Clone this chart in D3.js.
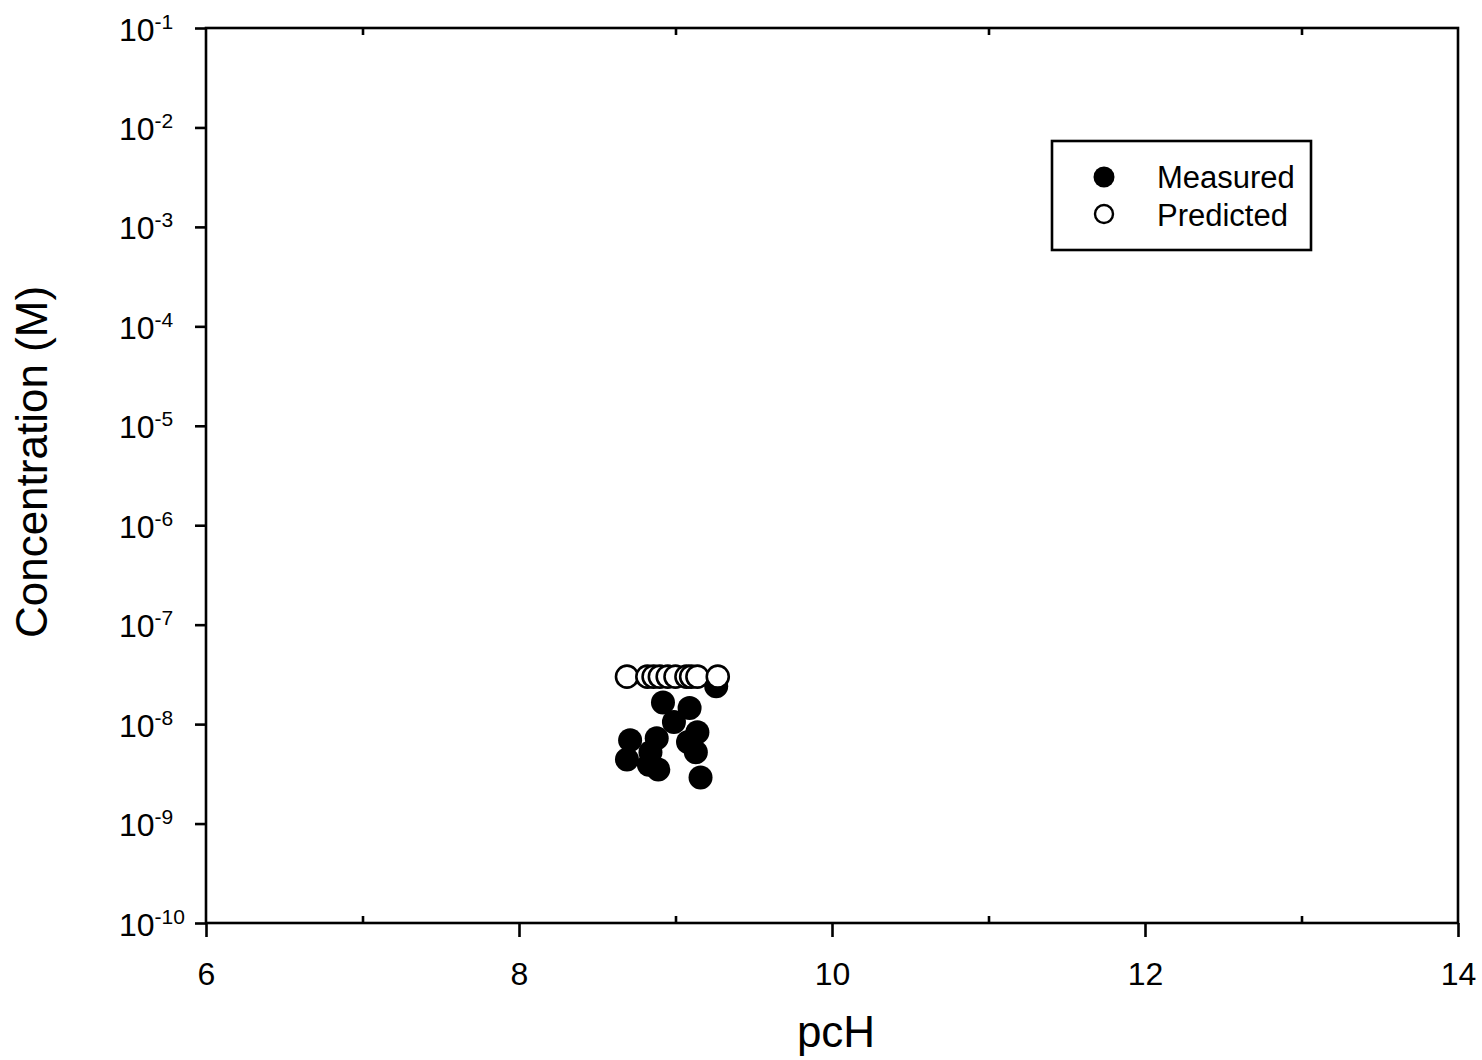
<!DOCTYPE html>
<html>
<head>
<meta charset="utf-8">
<script src="https://cdn.jsdelivr.net/npm/d3@7"></script>
<style>
  html, body { margin: 0; padding: 0; background: #fff; }
  svg text { font-family: "Liberation Sans", Arial, Helvetica, sans-serif; fill: #000; }
</style>
</head>
<body>
<svg id="chart" width="1482" height="1060"></svg>
<script>
// Measured concentrations (filled circles)
const measuredPcH  = [8.69, 8.71, 8.83, 8.84, 8.89, 8.88, 8.92, 8.99, 9.09, 9.08, 9.14, 9.13, 9.16, 9.26];
const measuredConc = [4.4e-9, 6.9e-9, 3.9e-9, 5.2e-9, 3.5e-9, 7.2e-9, 1.65e-8, 1.05e-8, 1.45e-8, 6.6e-9, 8.3e-9, 5.2e-9, 2.9e-9, 2.4e-8];

// Predicted concentrations (open circles)
const predictedPcH  = [8.69, 8.82, 8.86, 8.90, 8.95, 9.00, 9.07, 9.10, 9.14, 9.27];
const predictedConc = [3.0e-8, 3.0e-8, 3.0e-8, 3.0e-8, 3.0e-8, 3.0e-8, 3.0e-8, 3.0e-8, 3.0e-8, 3.0e-8];

// Axis ticks
const xMajorTicks = [6, 8, 10, 12, 14];
const xMinorTicks = [7, 9, 11, 13];
const yExponents  = [-1, -2, -3, -4, -5, -6, -7, -8, -9, -10];

const legendLabels = ["Measured", "Predicted"];

const svg = d3.select("#chart");
const margin = { left: 206, right: 24, top: 28, bottom: 137 };
const W = 1482, H = 1060;
const iw = W - margin.left - margin.right;
const ih = H - margin.top - margin.bottom;

const x = d3.scaleLinear().domain([6, 14]).range([0, iw]);
const y = d3.scaleLog().domain([1e-10, 1e-1]).range([ih, 0]);

const g = svg.append("g").attr("transform", `translate(${margin.left},${margin.top})`);

// Frame
g.append("rect")
  .attr("x", 0).attr("y", 0).attr("width", iw).attr("height", ih)
  .attr("fill", "none").attr("stroke", "#000").attr("stroke-width", 2.6);

// Bottom axis: major ticks outward, labelled
const xAxis = d3.axisBottom(x).tickValues(xMajorTicks).tickSize(14).tickSizeOuter(0).tickPadding(0);
const gx = g.append("g").attr("transform", `translate(0,${ih})`).call(xAxis);
gx.select(".domain").remove();
gx.selectAll(".tick line").attr("stroke", "#000").attr("stroke-width", 2.6);
gx.selectAll(".tick text").style("font-size", "32px").attr("y", 62).attr("dy", null);

// Minor x ticks pointing inward on bottom and top
const gxMinB = g.append("g").attr("transform", `translate(0,${ih})`)
  .call(d3.axisTop(x).tickValues(xMinorTicks).tickSize(7).tickSizeOuter(0).tickFormat(""));
gxMinB.select(".domain").remove();
gxMinB.selectAll(".tick line").attr("stroke", "#000").attr("stroke-width", 2.6);

const gxMinT = g.append("g")
  .call(d3.axisBottom(x).tickValues(xMinorTicks).tickSize(7).tickSizeOuter(0).tickFormat(""));
gxMinT.select(".domain").remove();
gxMinT.selectAll(".tick line").attr("stroke", "#000").attr("stroke-width", 2.6);

// Left axis: decade ticks outward with 10^n labels
const yTickVals = yExponents.map(e => Math.pow(10, e));
const yAxis = d3.axisLeft(y).tickValues(yTickVals).tickSize(11).tickSizeOuter(0).tickFormat("");
const gy = g.append("g").call(yAxis);
gy.select(".domain").remove();
gy.selectAll(".tick line").attr("stroke", "#000").attr("stroke-width", 2.6);

gy.selectAll(".tick").each(function(d, i) {
  const t = d3.select(this).append("text")
    .attr("x", 119 - margin.left)
    .attr("y", 12)
    .attr("text-anchor", "start")
    .style("font-size", "32px");
  t.append("tspan").text("10");
  t.append("tspan").attr("dy", -12).style("font-size", "21px").text(String(yExponents[i]));
});

// Axis titles
svg.append("text")
  .attr("x", 836).attr("y", 1047)
  .attr("text-anchor", "middle")
  .style("font-size", "44px")
  .text("pcH");

svg.append("text")
  .attr("transform", "translate(47,462) rotate(-90)")
  .attr("text-anchor", "middle")
  .style("font-size", "44px")
  .text("Concentration (M)");

// Points
const measured = measuredPcH.map((v, i) => ({ x: v, y: measuredConc[i] }));
const predicted = predictedPcH.map((v, i) => ({ x: v, y: predictedConc[i] }));

g.append("g").selectAll("circle").data(measured).join("circle")
  .attr("cx", d => x(d.x)).attr("cy", d => y(d.y)).attr("r", 12)
  .attr("fill", "#000");

g.append("g").selectAll("circle").data(predicted).join("circle")
  .attr("cx", d => x(d.x)).attr("cy", d => y(d.y)).attr("r", 11)
  .attr("fill", "#fff").attr("stroke", "#000").attr("stroke-width", 2.6);

// Legend
const lg = svg.append("g").attr("transform", "translate(1052,141)");
lg.append("rect").attr("width", 259).attr("height", 109)
  .attr("fill", "#fff").attr("stroke", "#000").attr("stroke-width", 2.6);
lg.append("circle").attr("cx", 52).attr("cy", 36).attr("r", 10.5).attr("fill", "#000");
lg.append("circle").attr("cx", 52).attr("cy", 73).attr("r", 9)
  .attr("fill", "#fff").attr("stroke", "#000").attr("stroke-width", 2.4);
legendLabels.forEach((lab, i) => {
  lg.append("text").attr("x", 105).attr("y", 47 + i * 38)
    .style("font-size", "31px").text(lab);
});
</script>
</body>
</html>
